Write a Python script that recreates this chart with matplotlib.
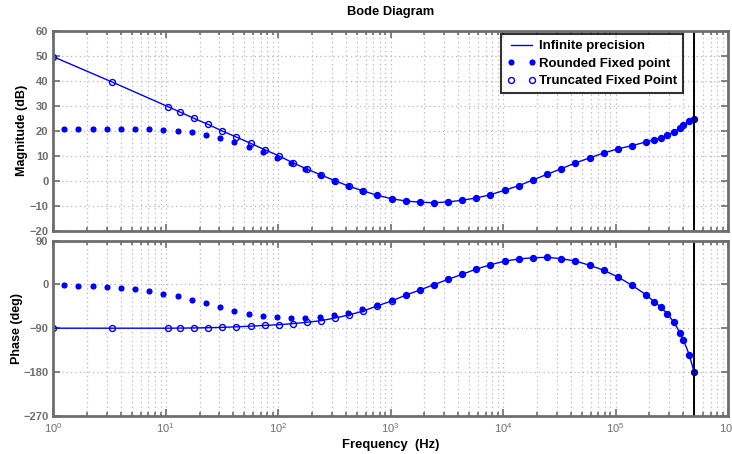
import matplotlib
matplotlib.use("Agg")
import matplotlib.pyplot as plt
from matplotlib.ticker import LogLocator, NullFormatter, FixedLocator

plt.rcParams['font.family'] = ['Liberation Sans', 'DejaVu Sans']
plt.rcParams['mathtext.fontset'] = 'custom'
plt.rcParams['mathtext.rm'] = 'Liberation Sans:bold'
plt.rcParams['mathtext.it'] = 'Liberation Sans:bold'
plt.rcParams['mathtext.bf'] = 'Liberation Sans:bold'

# Truncated fixed point response (also the infinite-precision curve)
trunc_freq = [1.0, 3.30, 10.5, 13.4, 17.8, 23.7, 31.8, 42.3, 56.9, 75.7, 101.4,
              134.3, 178.8, 239.7, 319, 425, 570, 758, 1018, 1356, 1819, 2421,
              3245, 4322, 5800, 7727, 10350, 13800, 18490, 24620, 33030, 44000,
              59000, 78600, 105200, 140200, 188200, 219900, 252200, 289300,
              331300, 376000, 401500, 454000, 500000]
trunc_mag = [49.6, 39.6, 29.65, 27.5, 25.0, 22.6, 19.95, 17.55, 15.0, 12.5, 10.0,
             7.3, 4.8, 2.4, 0.1, -2.1, -4.0, -5.7, -7.1, -8.0, -8.5, -8.7,
             -8.4, -7.7, -6.8, -5.5, -3.7, -1.9, 0.4, 2.65, 4.9, 7.2,
             9.2, 11.2, 12.8, 14.1, 15.6, 16.5, 17.15, 18.35,
             19.55, 21.1, 22.2, 23.8, 24.6]
trunc_phase = [-90, -90, -90, -89.8, -89.5, -89.0, -88.3, -87.2, -85.8, -84.3, -82.8,
               -80.7, -77.9, -74.6, -69.0, -62.9, -54.6, -44.3, -34.0, -22.3, -11.4, -0.5,
               10.6, 20.9, 31.8, 40.6, 48.0, 52.4, 55.0, 55.8, 53.0, 48.2,
               39.4, 29.1, 15.3, -1.8, -21.7, -35.5, -46.4, -60.8,
               -77.9, -100.5, -113.7, -145.8, -180.0]

# Rounded fixed point response
round_freq = [1.245, 1.667, 2.24, 2.98, 4.0, 5.33, 7.13, 9.5, 12.8, 17.0, 22.8,
              30.3, 40.6, 54.6, 73.1, 98.0, 130.5, 174.5, 234.8, 312.9, 420.7,
              560, 758, 1018, 1356, 1819, 2421, 3245, 4322, 5800, 7727, 10350,
              13800, 18490, 24620, 33030, 44000, 59000, 78600, 105200, 140200,
              188200, 219900, 252200, 289300, 331300, 376000, 401500, 454000,
              500000]
round_mag = [20.9, 20.9, 20.9, 20.9, 20.8, 20.8, 20.7, 20.4, 19.95, 19.4, 18.5,
             17.1, 15.5, 13.7, 11.6, 9.3, 7.1, 4.7, 2.4, 0.1, -2.1,
             -4.1, -5.8, -7.1, -8.0, -8.5, -8.7, -8.4, -7.7, -6.8, -5.5, -3.7,
             -1.9, 0.4, 2.65, 4.9, 7.2, 9.2, 11.2, 12.8, 14.1,
             15.6, 16.5, 17.15, 18.35, 19.55, 21.1, 22.2, 23.8,
             24.6]
round_phase = [-1.8, -3.2, -3.9, -5.2, -7.3, -10.0, -14.1, -19.0, -24.4, -31.4, -38.8,
               -46.4, -54.0, -60.2, -64.3, -67.0, -68.4, -68.4, -66.3, -62.9, -58.1,
               -50.5, -42.3, -31.4, -22.3, -11.4, -0.5, 10.6, 20.9, 31.8, 40.6, 48.0,
               52.4, 55.0, 55.8, 53.0, 48.2, 39.4, 29.1, 15.3, -1.8,
               -21.7, -35.5, -46.4, -60.8, -77.9, -100.5, -113.7, -145.8,
               -180.0]

nyquist = 5e5
mag_ticks = [-20, -10, 0, 10, 20, 30, 40, 50, 60]
phase_ticks = [-270, -180, -90, 0, 90]

BLUE = '#0000ff'
GREY = '#6e6e6e'
GRID = '#b8b8b8'
star = (8, 2, 0)

fig = plt.figure(figsize=(7.32, 4.54), dpi=100)
ax1 = fig.add_axes([0.0728, 0.4912, 0.9217, 0.4412])
ax2 = fig.add_axes([0.0728, 0.0844, 0.9217, 0.3854])


def style(ax, yticks, show_x):
    ax.set_xscale('log')
    ax.set_xlim(1, 1e6)
    ax.set_ylim(yticks[0], yticks[-1])
    ax.yaxis.set_major_locator(FixedLocator(yticks))
    ax.xaxis.set_major_locator(LogLocator(base=10, numticks=10))
    ax.xaxis.set_minor_locator(LogLocator(base=10, subs=range(2, 10), numticks=20))
    ax.xaxis.set_minor_formatter(NullFormatter())
    if not show_x:
        ax.xaxis.set_major_formatter(NullFormatter())
    ax.grid(True, which='major', axis='both', linestyle=(0, (1, 2.5)),
            color=GRID, linewidth=0.9)
    ax.grid(True, which='minor', axis='x', linestyle=(0, (1, 2.5)),
            color=GRID, linewidth=0.9)
    ax.tick_params(which='both', direction='in', top=True, right=True,
                   colors=GREY, labelsize=8, width=1.2)
    ax.tick_params(which='major', length=5)
    ax.tick_params(which='minor', length=3)
    ax.tick_params(axis='x', pad=4)
    for lbl in ax.get_yticklabels():
        lbl.set_fontweight('bold')
    for s in ax.spines.values():
        s.set_color(GREY)
        s.set_linewidth(2.0)
    ax.set_axisbelow(True)


style(ax1, mag_ticks, False)
style(ax2, phase_ticks, True)

# Magnitude
ax1.plot(trunc_freq, trunc_mag, '-', color=BLUE, lw=1.0, label='Infinite precision')
ax1.plot(round_freq, round_mag, linestyle='none', marker=star, color=BLUE,
         ms=4, mew=1.5, label='Rounded Fixed point')
ax1.plot(trunc_freq, trunc_mag, linestyle='none', marker='o', mfc='none',
         mec=BLUE, ms=4.3, mew=1.0, label='Truncated Fixed Point')
ax1.axvline(nyquist, color='black', lw=1.4)

# Phase
ax2.plot(trunc_freq, trunc_phase, '-', color=BLUE, lw=1.0)
ax2.plot(round_freq, round_phase, linestyle='none', marker=star, color=BLUE,
         ms=4, mew=1.5)
ax2.plot(trunc_freq, trunc_phase, linestyle='none', marker='o', mfc='none',
         mec=BLUE, ms=4.3, mew=1.0)
ax2.axvline(nyquist, color='black', lw=1.4)

ax1.set_ylabel('Magnitude (dB)', fontsize=9, fontweight='bold')
ax1.yaxis.set_label_coords(-0.0375, 0.5)
ax2.set_ylabel('Phase (deg)', fontsize=9, fontweight='bold')
ax2.yaxis.set_label_coords(-0.045, 0.5)
ax2.set_xlabel('Frequency  (Hz)', fontsize=9.4, fontweight='bold', labelpad=3)
ax1.set_title('Bode Diagram', fontsize=9.3, fontweight='bold', pad=11)

leg = ax1.legend(loc='upper right', bbox_to_anchor=(0.933, 0.9835),
                 numpoints=2, fontsize=9.5, frameon=True, fancybox=False,
                 handlelength=2.2, handletextpad=0.2, borderpad=0.45,
                 labelspacing=0.4, borderaxespad=0.0)
leg.get_frame().set_edgecolor('black')
leg.get_frame().set_linewidth(1.5)
for t in leg.get_texts():
    t.set_fontweight('bold')

fig.savefig('out.png', dpi=100)
